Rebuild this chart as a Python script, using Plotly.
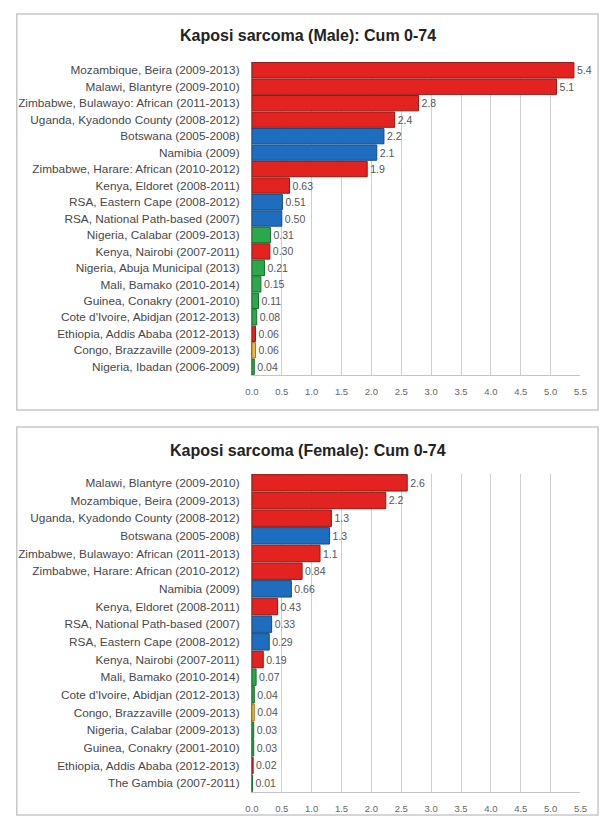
import plotly.graph_objects as go

W, H = 608, 816

# Male, cumulative risk 0-74 (%), top to bottom
male_sites = [
    "Mozambique, Beira (2009-2013)",
    "Malawi, Blantyre (2009-2010)",
    "Zimbabwe, Bulawayo: African (2011-2013)",
    "Uganda, Kyadondo County (2008-2012)",
    "Botswana (2005-2008)",
    "Namibia (2009)",
    "Zimbabwe, Harare: African (2010-2012)",
    "Kenya, Eldoret (2008-2011)",
    "RSA, Eastern Cape (2008-2012)",
    "RSA, National Path-based (2007)",
    "Nigeria, Calabar (2009-2013)",
    "Kenya, Nairobi (2007-2011)",
    "Nigeria, Abuja Municipal (2013)",
    "Mali, Bamako (2010-2014)",
    "Guinea, Conakry (2001-2010)",
    "Cote d'Ivoire, Abidjan (2012-2013)",
    "Ethiopia, Addis Ababa (2012-2013)",
    "Congo, Brazzaville (2009-2013)",
    "Nigeria, Ibadan (2006-2009)",
]
male_values = [5.39, 5.10, 2.79, 2.39, 2.21, 2.09, 1.93, 0.63, 0.51, 0.50,
               0.31, 0.30, 0.21, 0.15, 0.11, 0.08, 0.06, 0.06, 0.04]
male_regions = ["east", "east", "east", "east", "south", "south", "east", "east",
                "south", "south", "west", "east", "west", "west", "west", "west",
                "east", "central", "west"]

# Female, cumulative risk 0-74 (%), top to bottom
female_sites = [
    "Malawi, Blantyre (2009-2010)",
    "Mozambique, Beira (2009-2013)",
    "Uganda, Kyadondo County (2008-2012)",
    "Botswana (2005-2008)",
    "Zimbabwe, Bulawayo: African (2011-2013)",
    "Zimbabwe, Harare: African (2010-2012)",
    "Namibia (2009)",
    "Kenya, Eldoret (2008-2011)",
    "RSA, National Path-based (2007)",
    "RSA, Eastern Cape (2008-2012)",
    "Kenya, Nairobi (2007-2011)",
    "Mali, Bamako (2010-2014)",
    "Cote d'Ivoire, Abidjan (2012-2013)",
    "Congo, Brazzaville (2009-2013)",
    "Nigeria, Calabar (2009-2013)",
    "Guinea, Conakry (2001-2010)",
    "Ethiopia, Addis Ababa (2012-2013)",
    "The Gambia (2007-2011)",
]
female_values = [2.60, 2.24, 1.33, 1.30, 1.14, 0.84, 0.66, 0.43, 0.33, 0.29,
                 0.19, 0.07, 0.04, 0.04, 0.03, 0.03, 0.02, 0.01]
female_regions = ["east", "east", "east", "south", "east", "east", "south", "east",
                  "south", "south", "east", "west", "west", "central", "west", "west",
                  "east", "west"]

x_ticks = [0.0, 0.5, 1.0, 1.5, 2.0, 2.5, 3.0, 3.5, 4.0, 4.5, 5.0, 5.5]

fill = {"east": "#e2231f", "south": "#1f6dbf", "west": "#2aa84a", "central": "#f0b93c"}
edge = {"east": "#8c1a16", "south": "#174a80", "west": "#1d6b34", "central": "#a07a20"}


def fmt(v):
    return f"{v:.1f}" if v >= 1 else f"{v:.2f}"


def py(p):
    return 1 - p / H


fig = go.Figure()

panels = [
    (male_sites, male_values, male_regions, "", "Kaposi sarcoma (Male): Cum 0-74", 62, 375, 36),
    (female_sites, female_values, female_regions, "2", "Kaposi sarcoma (Female): Cum 0-74", 474, 792, 450),
]

for sites, vals, regs, ax, title, top, bot, ty in panels:
    fig.add_trace(go.Bar(
        x=vals, y=sites, orientation="h",
        xaxis="x" + ax, yaxis="y" + ax,
        marker=dict(color=[fill[r] for r in regs],
                    line=dict(color=[edge[r] for r in regs], width=1)),
        text=[fmt(v) for v in vals], textposition="outside",
        textfont=dict(family="Liberation Sans", size=10.5, color="#555555"),
        cliponaxis=False, showlegend=False,
    ))
    fig.update_layout({
        "xaxis" + ax: dict(
            domain=[250.7 / W, 587 / W], range=[0, 5.5], anchor="y" + ax,
            tickvals=x_ticks, ticktext=[f"{t:.1f}" for t in x_ticks],
            showgrid=True, gridcolor="#cfcfcf", gridwidth=1, zeroline=False,
            showline=True, linecolor="#c4c4c4", ticks="", ticklabelstandoff=8,
            tickfont=dict(family="Liberation Sans", size=9.5, color="#666666"),
        ),
        "yaxis" + ax: dict(
            domain=[py(bot), py(top)], anchor="x" + ax, type="category",
            autorange="reversed", showgrid=False, zeroline=False,
            showline=True, linecolor="#777777", ticks="", ticklabelstandoff=9,
            tickfont=dict(family="Liberation Sans", size=11.8, color="#474747"),
        ),
    })
    fig.add_annotation(text="<b>" + title + "</b>", x=308 / W, y=py(ty),
                       xref="paper", yref="paper", showarrow=False,
                       xanchor="center", yanchor="middle",
                       font=dict(family="Liberation Sans", size=16, color="#222222"))

# panel frames
for y0, y1 in [(14, 410), (427, 815)]:
    fig.add_shape(type="rect", xref="paper", yref="paper",
                  x0=10 / W, x1=605 / W, y0=py(y1), y1=py(y0),
                  line=dict(color="#c8c8c8", width=1.5), layer="below")

fig.update_layout(
    width=W, height=H, autosize=False,
    margin=dict(l=0, r=0, t=0, b=0),
    paper_bgcolor="white", plot_bgcolor="white",
    bargap=0.07,
)

# drop the page's default body margin so the figure fills the window
fig.write_html("out.html", config={"displayModeBar": False},
               post_script="document.body.style.margin='0';document.body.style.overflow='hidden';")
